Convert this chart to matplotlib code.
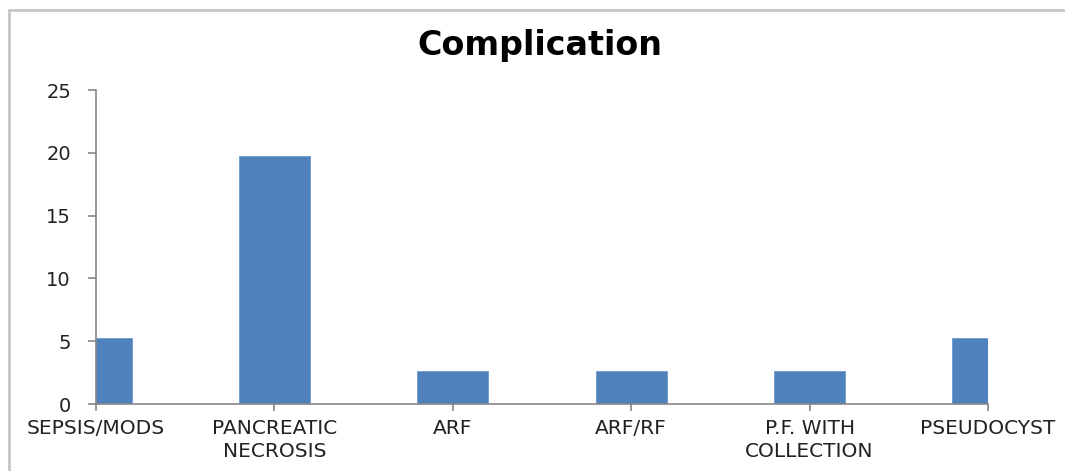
import matplotlib
matplotlib.use("Agg")
import matplotlib.pyplot as plt
from matplotlib.patches import Rectangle

categories = ["SEPSIS/MODS", "PANCREATIC\nNECROSIS", "ARF", "ARF/RF",
              "P.F. WITH\nCOLLECTION", "PSEUDOCYST"]
values = [5.26, 19.74, 2.63, 2.63, 2.63, 5.26]
y_ticks = [0, 5, 10, 15, 20, 25]

plt.rcParams["font.family"] = ["DejaVu Sans"]

fig = plt.figure(figsize=(10.65, 4.71), dpi=100)
ax = fig.add_axes([96 / 1065, 1 - 404 / 471, (988 - 96) / 1065, (404 - 90) / 471])

# outer chart-area frame
fig.patches.append(Rectangle((9 / 1065, -0.1), 1.2, 1 - 10 / 471 + 0.1,
                             transform=fig.transFigure, fill=False,
                             edgecolor="#c6c6c6", linewidth=2))

x = list(range(len(categories)))
ax.bar(x, values, width=0.4, color="#4F81BD", edgecolor="#6f9bd0", linewidth=0.6)

ax.set_xlim(0, len(categories) - 1)
ax.set_ylim(0, 25)
ax.set_yticks(y_ticks)
ax.set_xticks(x)
ax.set_xticklabels(categories, fontsize=14.5, color="#222222", linespacing=1.25)
ax.tick_params(axis="y", labelsize=14, colors="#868686", labelcolor="#222222",
               length=6, width=1.2, pad=12)
ax.tick_params(axis="x", colors="#868686", labelcolor="#222222",
               length=5, width=1.2, pad=6)

for side in ("top", "right"):
    ax.spines[side].set_visible(False)
for side in ("left", "bottom"):
    ax.spines[side].set_color("#868686")
    ax.spines[side].set_linewidth(1.2)

fig.text(540 / 1065, 1 - 45 / 471, "Complication", ha="center", va="center",
         fontsize=24, fontweight="bold", color="#000000")

fig.savefig("out.png", dpi=100)
